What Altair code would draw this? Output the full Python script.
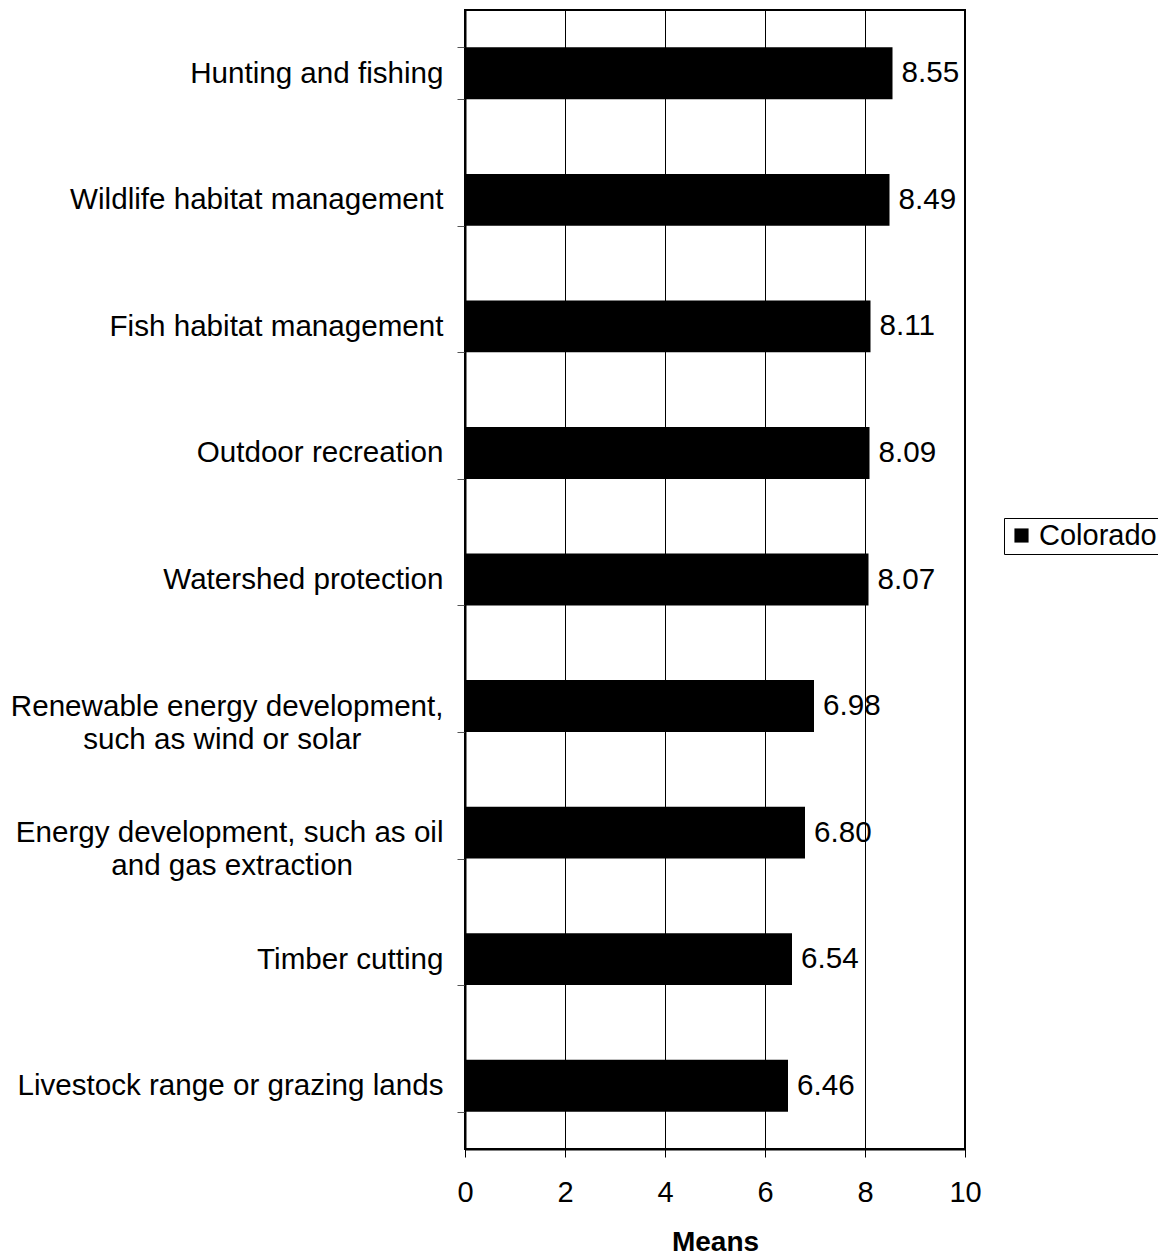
import altair as alt
import pandas as pd

categories = [
    "Hunting and fishing",
    "Wildlife habitat management",
    "Fish habitat management",
    "Outdoor recreation",
    "Watershed protection",
    "Renewable energy development,|such as wind or solar",
    "Energy development, such as oil|and gas extraction",
    "Timber cutting",
    "Livestock range or grazing lands",
]
means = [8.55, 8.49, 8.11, 8.09, 8.07, 6.98, 6.80, 6.54, 6.46]
series_name = "Colorado"
x_ticks = [0, 2, 4, 6, 8, 10]

# trailing no-break spaces (closed by a word joiner so they are not treated as
# trailing white space) so that the second line of a two-line label sits
# centred under the first line, as in the reference
second_line_pad = {5: 10, 6: 11}
display = [
    c + ("\u00a0" * second_line_pad[i] + "\u2060" if i in second_line_pad else "")
    for i, c in enumerate(categories)
]

df = pd.DataFrame({
    "category": display,
    "mean": means,
    "series": [series_name] * len(categories),
})

FONT = "Liberation Sans"
BIG = 29.6
TICK = 29
TITLE = 28

y_enc = alt.Y(
    "category:N",
    sort=display,
    title=None,
    scale=alt.Scale(paddingInner=0.59, paddingOuter=0.295),
    axis=alt.Axis(
        labelExpr="split(datum.label, '|')",
        labelFontSize=BIG,
        labelFont=FONT,
        labelColor="black",
        labelAlign="right",
        labelPadding=14,
        labelLineHeight=33,
        labelLimit=0,
        tickBand="extent",
        tickSize=8,
        tickColor="#555555",
        domainColor="black",
        domainWidth=2,
        grid=False,
    ),
)

x_enc = alt.X(
    "mean:Q",
    scale=alt.Scale(domain=[0, 10], nice=False),
    axis=alt.Axis(
        values=x_ticks,
        title="Means",
        titleFont=FONT,
        titleFontSize=TITLE,
        titleFontWeight="bold",
        titleColor="black",
        titlePadding=21,
        labelFont=FONT,
        labelFontSize=TICK,
        labelColor="black",
        labelPadding=21,
        labelFlush=False,
        tickSize=8,
        tickColor="black",
        domainColor="black",
        domainWidth=2,
        grid=True,
        gridColor="black",
        gridWidth=1,
    ),
)

bars = alt.Chart(df).mark_bar(color="black").encode(
    x=x_enc,
    y=y_enc,
    color=alt.Color(
        "series:N",
        scale=alt.Scale(range=["black"]),
        legend=alt.Legend(
            title=None,
            orient="none",
            legendX=539,
            legendY=508,
            strokeColor="black",
            fillColor="white",
            padding=3,
            symbolType="square",
            symbolSize=200,
            symbolStrokeWidth=0,
            labelFont=FONT,
            labelFontSize=29,
            labelColor="black",
            labelOffset=3,
            labelLimit=300,
        ),
    ),
)

labels = alt.Chart(df).mark_text(
    align="left", baseline="middle", dx=9, font=FONT, fontSize=BIG, color="black"
).encode(
    x="mean:Q",
    y=alt.Y("category:N", sort=display),
    text=alt.Text("mean:Q", format=".2f"),
)

chart = (
    alt.layer(bars, labels)
    .properties(
        width=500,
        height=1139,
        autosize=alt.AutoSizeParams(type="none"),
        padding={"left": 457, "top": 2, "right": 193, "bottom": 108},
    )
    .configure_view(stroke="black", strokeWidth=2)
)

chart.save("out.html", embed_options={"renderer": "svg", "actions": False})
